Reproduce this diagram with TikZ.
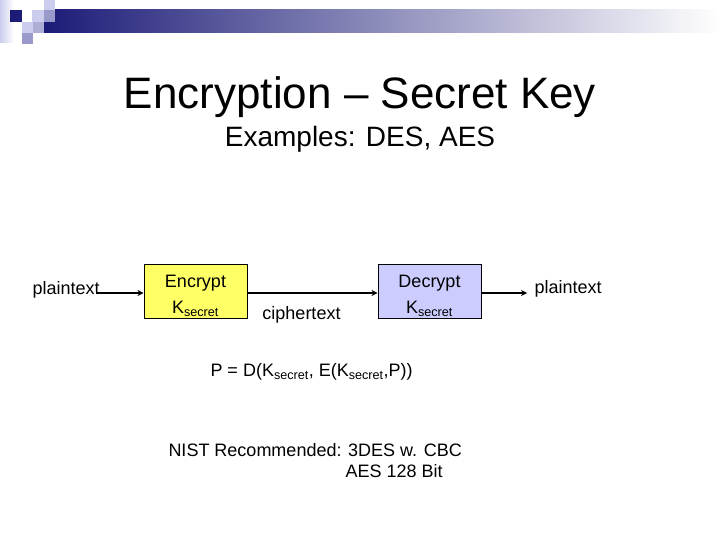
\documentclass[tikz,border=0pt]{standalone}
\usepackage{fontspec}
\setmainfont{Liberation Sans}
\usetikzlibrary{arrows.meta, positioning}
\definecolor{navy}{HTML}{1C1C78}
\definecolor{lavlight}{HTML}{CCCCEE}
\definecolor{lavmid}{HTML}{9999CC}
\definecolor{encfill}{HTML}{FFFF66}
\definecolor{decfill}{HTML}{CCCCFF}

\begin{document}
\begin{tikzpicture}[x=1pt, y=-1pt, line width=1pt,
    cipherbox/.style={draw, line width=1pt, minimum width=103pt, minimum height=54pt, inner sep=0pt},
    boxtext/.style={align=center, inner sep=0pt, font=\fontsize{18}{26}\selectfont},
    lbl/.style={inner sep=0pt, font=\fontsize{18}{22}\selectfont},
    flow/.style={line width=2pt, -{Stealth[length=6pt, width=6pt]}}]
  % Frame
  \useasboundingbox (0,0) rectangle (720,540);

  % Header decoration
  \shade[left color=lavlight, right color=white] (0,0) rectangle (14,43);
  \shade[left color=navy, right color=white] (44,10) rectangle (720,33);
  \fill[navy] (10,10) rectangle (22,22);
  \fill[lavlight] (44,0) rectangle (55,11);
  \fill[lavlight] (32,10) rectangle (44,22);
  \fill[lavmid] (44,10) rectangle (55,22);
  \fill[lavlight] (22,22) rectangle (33,33);
  \fill[lavmid!80] (33,22) rectangle (44,33);
  \fill[lavmid] (22,33) rectangle (33,44);

  % Title
  \node[inner sep=0pt, font=\fontsize{44}{50}\selectfont] (title) at (360,97) {Encryption -- Secret Key};
  \node[inner sep=0pt, font=\fontsize{28}{32}\selectfont] (subtitle) at (360,139) {Examples: DES, AES};

  % Encrypt / decrypt chain
  \node[lbl, anchor=west] (plainin) at (32,290) {plaintext};
  \node[cipherbox, fill=encfill] (encbox) at (195.5,291) {};
  \node[boxtext] (enctext) at ([yshift=-5pt]encbox.center) {Encrypt\\K\textsubscript{secret}};
  \node[cipherbox, fill=decfill] (decbox) at (429.5,291) {};
  \node[boxtext] (dectext) at ([yshift=-5pt]decbox.center) {Decrypt\\K\textsubscript{secret}};
  \node[lbl, anchor=west] (plainout) at (534,289) {plaintext};
  \node[lbl] (cipher) at (301.5,315) {ciphertext};

  \draw[flow] (plainin.east) ++(-4,3) -- (encbox.west |- 0,293);
  \draw[flow] (encbox.east |- 0,293) -- (decbox.west |- 0,293);
  \draw[flow] (decbox.east |- 0,293) -- (527,293);

  % Formula
  \node[lbl, anchor=west] (formula) at (210,372) {P = D(K\textsubscript{secret}, E(K\textsubscript{secret},P))};

  % Recommendation
  \node[lbl, anchor=west] (nist) at (168,450) {NIST Recommended: 3DES w. CBC};
  \node[lbl, anchor=west] (aes) at (345,471) {AES 128 Bit};
\end{tikzpicture}
\end{document}
